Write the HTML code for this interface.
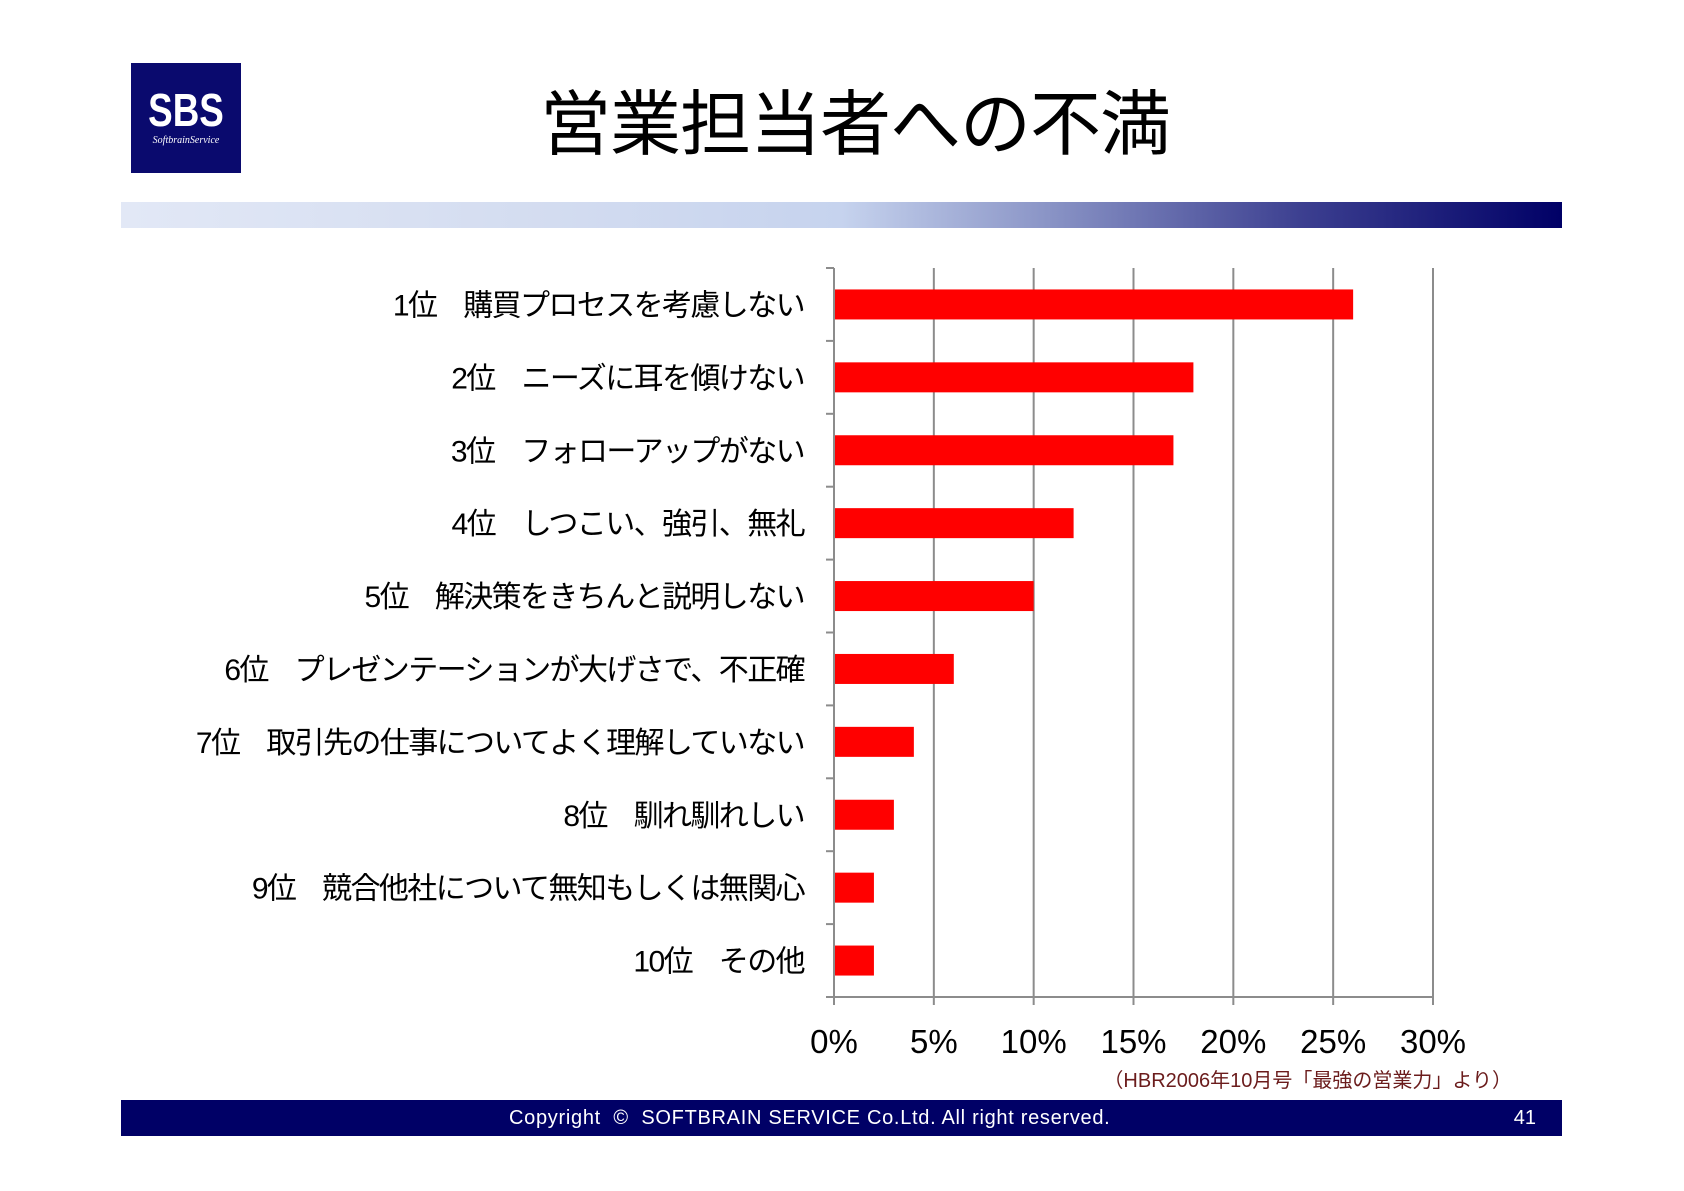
<!DOCTYPE html>
<html><head><meta charset="utf-8">
<style>
body{margin:0;width:1684px;height:1191px;background:#fff;position:relative;overflow:hidden;font-family:"Liberation Sans","Noto Sans CJK JP",sans-serif;}
.abs{position:absolute;}
</style></head>
<body>
<div class="abs" style="left:131px;top:63px;width:110px;height:110px;background:#0a0a6e;color:#fff;text-align:center;">
  <div style="font-weight:bold;font-size:46px;line-height:46px;margin-top:24px;transform:scaleX(0.8);">SBS</div>
  <div style="font-family:'Liberation Serif',serif;font-style:italic;font-size:10px;margin-top:2px;">SoftbrainService</div>
</div>
<div class="abs" style="left:400px;top:84px;width:910px;text-align:center;font-size:71px;line-height:84px;color:#000;letter-spacing:-1px;">営業担当者への不満</div>
<div class="abs" style="left:121px;top:202px;width:1441px;height:26px;background:linear-gradient(to right,#e2e8f6 0%,#d3dcf0 30%,#c6d3ee 50%,#8791c4 65%,#3c3f90 82%,#000066 100%);"></div>

<svg class="abs" style="left:0;top:0" width="1684" height="1191" id="chart"></svg>

<div class="abs" style="left:1000px;top:1064px;width:512px;text-align:right;font-size:20px;color:#6b1c1c;">（HBR2006年10月号「最強の営業力」より）</div>
<div class="abs" style="left:121px;top:1100px;width:1441px;height:36px;background:#000066;color:#fff;font-size:20px;line-height:36px;">
  <span style="position:absolute;left:388px;letter-spacing:0.7px;">Copyright &nbsp;© &nbsp;SOFTBRAIN SERVICE Co.Ltd. All right reserved.</span>
  <span style="position:absolute;right:26px;">41</span>
</div>

<script>
const categories=["1位　購買プロセスを考慮しない","2位　ニーズに耳を傾けない","3位　フォローアップがない","4位　しつこい、強引、無礼","5位　解決策をきちんと説明しない","6位　プレゼンテーションが大げさで、不正確","7位　取引先の仕事についてよく理解していない","8位　馴れ馴れしい","9位　競合他社について無知もしくは無関心","10位　その他"];
const values=[26,18,17,12,10,6,4,3,2,2];
const ticks=[0,5,10,15,20,25,30];

const NS="http://www.w3.org/2000/svg";
const svg=document.getElementById('chart');
const X0=834,X1=1433,Y0=268,Y1=997,MAX=30;
const x=v=>X0+(v/MAX)*(X1-X0);
const band=(Y1-Y0)/categories.length;
const y=i=>Y0+band*i;
function mk(t,a){const e=document.createElementNS(NS,t);for(const k in a)e.setAttribute(k,a[k]);svg.appendChild(e);return e;}

ticks.forEach((t,i)=>{
  if(t>0){const g=mk('line',{x1:x(t),x2:x(t),y1:Y0,y2:Y1,stroke:'#8c8c8c','stroke-width':2});
  
  }
  const tk=mk('line',{x1:x(t),x2:x(t),y1:Y1,y2:Y1+8,stroke:'#8c8c8c','stroke-width':2});
  
  
  const lb=mk('text',{x:x(t),y:Y1+56,'text-anchor':'middle','font-size':33,fill:'#000'});
  lb.textContent=t+'%';
  
  
});
for(let i=0;i<=categories.length;i++){
  const tk=mk('line',{x1:X0-8,x2:X0,y1:y(i),y2:y(i),stroke:'#8c8c8c','stroke-width':2});
  
  
}
categories.forEach((c,i)=>{
  const bh=30, cy=y(i)+band/2;
  const r=mk('rect',{x:X0,y:cy-bh/2,width:x(values[i])-X0,height:bh,fill:'#ff0000'});
  
  
  const t=mk('text',{x:X0-30,y:cy+11,'text-anchor':'end','font-size':30,fill:'#000','letter-spacing':'-1.6'});
  t.textContent=c.replace('　','\u2002\u2002');
  
  
});
const ya=mk('line',{x1:X0,x2:X0,y1:Y0,y2:Y1,stroke:'#8c8c8c','stroke-width':2});


const xa=mk('line',{x1:X0,x2:X1,y1:Y1,y2:Y1,stroke:'#8c8c8c','stroke-width':2});


</script>
</body></html>
